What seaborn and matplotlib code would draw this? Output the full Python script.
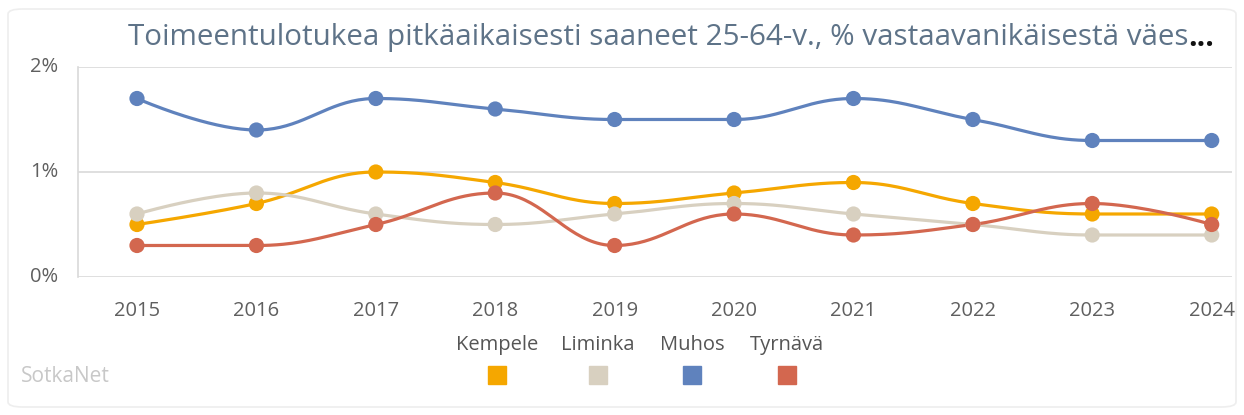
import numpy as np
import pandas as pd
import matplotlib
matplotlib.use('Agg')
import matplotlib.pyplot as plt
import seaborn as sns
from matplotlib.patches import Rectangle, FancyBboxPatch

# ============================
# Data
# ============================
years = [2015, 2016, 2017, 2018, 2019, 2020, 2021, 2022, 2023, 2024]
kempele = [0.5, 0.7, 1.0, 0.9, 0.7, 0.8, 0.9, 0.7, 0.6, 0.6]
liminka = [0.6, 0.8, 0.6, 0.5, 0.6, 0.7, 0.6, 0.5, 0.4, 0.4]
muhos = [1.7, 1.4, 1.7, 1.6, 1.5, 1.5, 1.7, 1.5, 1.3, 1.3]
tyrnava = [0.3, 0.3, 0.5, 0.8, 0.3, 0.6, 0.4, 0.5, 0.7, 0.5]

series = {'Kempele': kempele, 'Liminka': liminka, 'Muhos': muhos, 'Tyrnävä': tyrnava}
colors = {'Kempele': '#f5a700', 'Liminka': '#d8d0c0', 'Muhos': '#5f82bd', 'Tyrnävä': '#d3674f'}
y_ticks = [0, 1, 2]
title = 'Toimeentulotukea pitkäaikaisesti saaneet 25-64-v., % vastaavanikäisestä väes'


def spline(xs, ys, steps=40):
    # smooth curve through the points (highcharts style bezier)
    xs = np.asarray(xs, float)
    ys = np.asarray(ys, float)
    n = len(xs)
    left = [(x, y) for x, y in zip(xs, ys)]
    right = [(x, y) for x, y in zip(xs, ys)]
    sm, den = 1.5, 2.5
    for i in range(1, n - 1):
        lx = (sm * xs[i] + xs[i - 1]) / den
        ly = (sm * ys[i] + ys[i - 1]) / den
        rx = (sm * xs[i] + xs[i + 1]) / den
        ry = (sm * ys[i] + ys[i + 1]) / den
        corr = (ry - ly) * (rx - xs[i]) / (rx - lx) + ys[i] - ry
        ly += corr
        ry += corr
        if ly > max(ys[i - 1], ys[i]):
            ly = max(ys[i - 1], ys[i])
            ry = 2 * ys[i] - ly
        elif ly < min(ys[i - 1], ys[i]):
            ly = min(ys[i - 1], ys[i])
            ry = 2 * ys[i] - ly
        if ry > max(ys[i + 1], ys[i]):
            ry = max(ys[i + 1], ys[i])
            ly = 2 * ys[i] - ry
        elif ry < min(ys[i + 1], ys[i]):
            ry = min(ys[i + 1], ys[i])
            ly = 2 * ys[i] - ry
        left[i] = (lx, ly)
        right[i] = (rx, ry)
    t = np.linspace(0, 1, steps)
    px, py = [], []
    for i in range(n - 1):
        p0 = (xs[i], ys[i])
        p1 = right[i]
        p2 = left[i + 1]
        p3 = (xs[i + 1], ys[i + 1])
        bx = (1 - t) ** 3 * p0[0] + 3 * (1 - t) ** 2 * t * p1[0] + 3 * (1 - t) * t ** 2 * p2[0] + t ** 3 * p3[0]
        by = (1 - t) ** 3 * p0[1] + 3 * (1 - t) ** 2 * t * p1[1] + 3 * (1 - t) * t ** 2 * p2[1] + t ** 3 * p3[1]
        px.extend(bx)
        py.extend(by)
    return np.array(px), np.array(py)


sns.set_style('white')
plt.rcParams['font.family'] = ['Open Sans', 'DejaVu Sans']

fig = plt.figure(figsize=(12.44, 4.15), dpi=100)
ax = fig.add_axes([78 / 1244, 1 - 277 / 415, (1232 - 78) / 1244, (277 - 67) / 415])

idx = list(range(len(years)))
for name, vals in series.items():
    sx, sy = spline(idx, vals)
    curve = pd.DataFrame({'x': sx, 'y': sy})
    sns.lineplot(data=curve, x='x', y='y', sort=False, color=colors[name], linewidth=2.3, ax=ax)
    pts = pd.DataFrame({'x': idx, 'y': vals})
    sns.scatterplot(data=pts, x='x', y='y', color=colors[name], s=120, edgecolor='none', ax=ax, zorder=3)

ax.set_xlim(-0.494, 9.17)
ax.set_ylim(0, 2)
ax.set_yticks(y_ticks)
ax.set_yticklabels([f'{v}%' for v in y_ticks])
ax.set_xticks(idx)
ax.set_xticklabels([str(y) for y in years])
ax.set_xlabel('')
ax.set_ylabel('')
for v in y_ticks:
    ax.axhline(v, color='#d9d9d9', linewidth=1.2, zorder=0)
for s in ['top', 'right', 'bottom']:
    ax.spines[s].set_visible(False)
ax.spines['left'].set_color('#d9d9d9')
ax.spines['left'].set_linewidth(1.2)
ax.tick_params(axis='both', length=0, labelsize=14.5, colors='#5f5f5f')
ax.tick_params(axis='y', pad=14)
ax.tick_params(axis='x', pad=17)
for lab in ax.get_yticklabels():
    lab.set_verticalalignment('center')

# title
fig.text(128 / 1244, 1 - 38 / 415, title, ha='left', va='center', fontsize=21.3, color='#5e7388')
t = fig.texts[-1]
fig.canvas.draw()
bb = t.get_window_extent()
fig.text(bb.x1 / 1244, 1 - 38 / 415, '...', ha='left', va='center', fontsize=21.3, color='#111111', fontweight='bold')

# legend
leg_x = {'Kempele': 497, 'Liminka': 598, 'Muhos': 692, 'Tyrnävä': 787}
for name, x in leg_x.items():
    fig.text(x / 1244, 1 - 345 / 415, name, ha='center', va='center', fontsize=14.5, color='#555555')
    fig.patches.append(Rectangle(((x - 9) / 1244, 1 - 384 / 415), 18 / 1244, 18 / 415,
                                 transform=fig.transFigure, color=colors[name], figure=fig))

fig.text(21 / 1244, 1 - 376 / 415, 'SotkaNet', ha='left', va='center', fontsize=15, color='#c8c8c8')

frame = FancyBboxPatch((8 / 1244, 8 / 415), 1228 / 1244, 398 / 415,
                       boxstyle='round,pad=0,rounding_size=0.012', transform=fig.transFigure,
                       facecolor='none', edgecolor='#eeeeee', linewidth=1.2, figure=fig)
fig.patches.append(frame)

fig.savefig('out.png', dpi=100)
